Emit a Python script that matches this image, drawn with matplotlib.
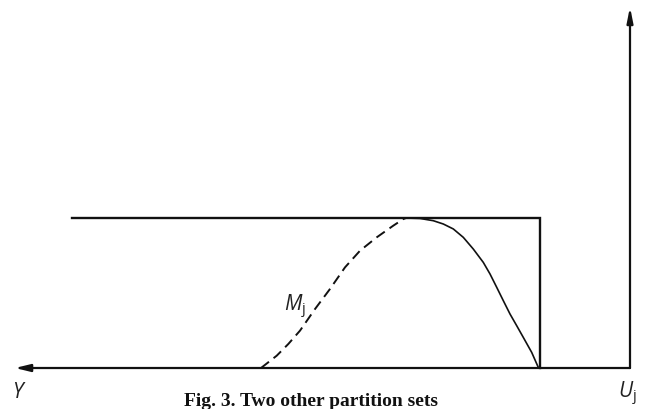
import matplotlib
matplotlib.use("Agg")
import matplotlib.pyplot as plt

plt.rcParams["mathtext.fontset"] = "custom"
plt.rcParams["mathtext.it"] = "Open Sans:italic"
plt.rcParams["mathtext.rm"] = "Open Sans"

# Position along the Y axis (measured leftwards from the U_j origin) and membership degree
rect_left = 5.58
rect_right = 0.90
rect_height = 1.0

dashed_s = [3.69, 3.533, 3.417, 3.30, 3.15, 3.00, 2.85, 2.70, 2.533, 2.367, 2.267, 2.24]
dashed_mu = [0.0, 0.082, 0.16, 0.249, 0.393, 0.527, 0.671, 0.782, 0.871, 0.949, 0.993, 1.0]

solid_s = [2.24, 2.10, 1.967, 1.867, 1.767, 1.667, 1.567, 1.467, 1.40, 1.333, 1.267,
           1.20, 1.133, 1.067, 0.983, 0.917, 0.90]
solid_mu = [1.0, 0.997, 0.982, 0.96, 0.927, 0.871, 0.793, 0.704, 0.627, 0.538, 0.449,
            0.36, 0.282, 0.204, 0.104, 0.004, 0.0]

axis_y_end = 6.15      # tip of the Y arrow
axis_u_top = 2.407     # tip of the vertical arrow

label_y = "$Y$"
label_u = "$U_\\mathrm{j}$"
label_m = "$M_\\mathrm{j}$"
caption = "Fig. 3. Two other partition sets"

fig = plt.figure(figsize=(6.48, 4.10), dpi=100)
ax = fig.add_axes([0, 0, 1, 1])
ax.set_xlim(6.30, -0.18)
ax.set_ylim(-0.2733, 2.46)
ax.axis("off")

ink = "#111111"

# axes with arrow heads
ax.annotate("", xy=(axis_y_end, 0), xytext=(0, 0),
            arrowprops=dict(arrowstyle="-|>,head_length=0.9,head_width=0.22",
                            color=ink, lw=1.6, shrinkA=0, shrinkB=0))
ax.annotate("", xy=(0, axis_u_top), xytext=(0, 0),
            arrowprops=dict(arrowstyle="-|>,head_length=0.9,head_width=0.18",
                            color=ink, lw=1.6, shrinkA=0, shrinkB=0))

# rectangular partition set
ax.plot([rect_left, rect_right, rect_right], [rect_height, rect_height, 0],
        color=ink, lw=1.7, solid_joinstyle="miter")

# M_j curves
ax.plot(dashed_s, dashed_mu, color=ink, lw=1.4, dashes=(5.2, 3.0))
ax.plot(solid_s, solid_mu, color=ink, lw=1.2)

text_color = "#222222"
ax.text(6.105, -0.193, label_y, fontsize=15, ha="center", va="baseline", color=text_color)
ax.text(0.03, -0.193, label_u, fontsize=15, ha="center", va="baseline", color=text_color)
ax.text(3.35, 0.387, label_m, fontsize=15, ha="center", va="baseline", color=text_color)

ax.text(3.19, -0.245, caption, fontsize=14, fontweight="bold", family="Liberation Serif",
        ha="center", va="baseline", color=ink)

fig.savefig("out.png", dpi=100, facecolor="white")
